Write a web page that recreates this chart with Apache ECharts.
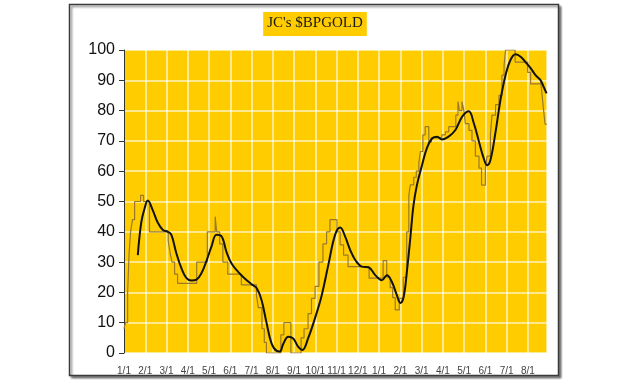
<!DOCTYPE html>
<html>
<head>
<meta charset="utf-8">
<script src="https://cdn.jsdelivr.net/npm/echarts@6/dist/echarts.min.js"></script>
<style>html,body{margin:0;padding:0;background:#fff}#c{width:630px;height:383px}</style>
</head>
<body>
<div id="c"></div>
<script>
// Month tick labels (x = month index from first 1/1)
var monthLabels = ['1/1','2/1','3/1','4/1','5/1','6/1','7/1','8/1','9/1','10/1','11/1','12/1',
                   '1/1','2/1','3/1','4/1','5/1','6/1','7/1','8/1'];
var yTicks = [0,10,20,30,40,50,60,70,80,90,100];

// Raw $BPGOLD (thin stepped line): [month position, value at which it changes]
var bpgoldRaw = [
 [0,8],[0.07,10],[0.17,20],[0.24,33],[0.31,40],[0.4,44],[0.5,50],[0.78,52],[0.92,50],[1.2,40],
 [2.08,37],[2.17,33],[2.26,30],[2.38,26],[2.52,23],[3.42,30],[3.92,40],[4.29,45],[4.36,40],[4.5,36],
 [4.65,30],[4.88,26],[5.52,22.5],[6.23,19],[6.32,15],[6.49,8],[6.6,3.5],[6.7,0],[7.38,6],[7.52,10],
 [7.85,0],[8.33,5],[8.47,8],[8.66,13],[8.82,18],[8.99,22],[9.17,30],[9.36,36],[9.53,40],[9.69,44],
 [10.02,40],[10.17,35.7],[10.33,32.3],[10.54,28.5],[11.53,24.7],[12.19,30.5],[12.36,25],[12.52,21.6],
 [12.64,18.3],[12.76,14.2],[12.95,18],[13.14,25],[13.3,40],[13.4,52],[13.47,55.5],[13.63,58],
 [13.75,60],[13.87,62.7],[13.94,66.5],[14.06,72],[14.17,74.7],[14.34,69.6],[14.46,71],[14.95,72],
 [15.12,73],[15.28,74.7],[15.61,78.5],[15.71,83],[15.78,80],[15.9,83],[15.99,80],[16.06,75.7],
 [16.23,73.5],[16.37,70],[16.53,65],[16.7,61],[16.82,55.4],[17.0,61],[17.08,65],[17.24,72],
 [17.31,78.5],[17.48,82],[17.64,85],[17.78,91.7],[17.88,95],[17.95,100],[18.4,96],[18.99,92.6],
 [19.13,88.8],[19.6,90],[19.67,85],[19.74,80],[19.81,75.5],[19.9,75.5]
];

// Smoothed average (thick black line)
var bpgoldAvg = [
 [0.65,32.3],[0.81,43],[0.97,47.8],[1.12,50.3],[1.36,47],[1.59,43],[1.83,40.6],[2.07,40],[2.23,39],
 [2.46,33],[2.7,28],[2.93,24.8],[3.17,23.9],[3.41,24.2],[3.64,26.3],[3.88,30.4],[4.11,35],[4.35,39],
 [4.58,38.6],[4.82,33.4],[5.06,29.5],[5.37,26.8],[5.68,24.6],[6.0,22.7],[6.24,21.4],[6.47,17.5],
 [6.71,9.8],[6.94,3.2],[7.18,0.7],[7.33,0.5],[7.49,3],[7.73,5.4],[7.96,4.8],[8.2,2],[8.39,1],
 [8.67,5],[8.99,11.6],[9.3,19],[9.61,29],[9.93,39],[10.17,41.4],[10.4,38.5],[10.64,34],[10.88,30.7],
 [11.19,28.5],[11.5,28.3],[11.82,25.7],[12.13,24],[12.37,25.7],[12.6,23.5],[12.84,19],[13.0,16.5],
 [13.15,18.3],[13.31,27],[13.47,38],[13.62,48.8],[13.78,55.4],[14.02,62],[14.25,67.6],[14.49,70.8],
 [14.73,71.4],[14.96,70.5],[15.27,71.4],[15.59,73.6],[15.91,78],[16.22,79.8],[16.45,76],[16.69,70],
 [16.92,64.3],[17.08,62],[17.24,63.7],[17.48,73],[17.71,83.5],[17.95,91.7],[18.18,96.7],[18.42,98.6],
 [18.66,97.8],[18.89,96],[19.13,94],[19.36,91.7],[19.6,90],[19.75,87.7],[19.88,85.7]
];

var chart = echarts.init(document.getElementById('c'), null, {renderer:'canvas'});
chart.setOption({
  animation: false,
  backgroundColor: '#ffffff',
  title: {
    text: "JC's $BPGOLD",
    left: 'center',
    top: 12,
    padding: [4, 4, 5, 4],
    backgroundColor: '#FFCC00',
    textStyle: {fontFamily: 'Liberation Serif', fontSize: 15, fontWeight: 'normal', color: '#1a1a1a'}
  },
  graphic: [{
    type: 'rect', z: -1,
    shape: {x: 69.5, y: 4.5, width: 489, height: 371},
    style: {fill: '#ffffff', stroke: '#3a3a3a', lineWidth: 1.5,
            shadowColor: 'rgba(0,0,0,0.45)', shadowOffsetX: 2, shadowOffsetY: 2, shadowBlur: 2}
  }],
  grid: {left: 124, right: 83, top: 50, bottom: 30, show: true, backgroundColor: '#FFCC00', borderWidth: 0},
  xAxis: {
    type: 'value', min: 0, max: 19.9, interval: 1,
    axisLine: {show: false}, axisTick: {show: false},
    splitLine: {show: true, lineStyle: {color: 'rgba(255,255,255,0.75)', width: 1.5}},
    axisLabel: {
      fontFamily: 'Liberation Sans', fontSize: 10, color: '#444', margin: 13,
      showMaxLabel: false, hideOverlap: false,
      formatter: function (v) { var i = Math.round(v); return Math.abs(v - i) < 1e-6 ? (monthLabels[i] || '') : ''; }
    }
  },
  yAxis: {
    type: 'value', min: yTicks[0], max: yTicks[yTicks.length - 1], interval: 10,
    axisLine: {show: true, lineStyle: {color: '#333', width: 1}},
    axisTick: {show: true, length: 5, lineStyle: {color: '#333'}},
    splitLine: {show: true, lineStyle: {color: 'rgba(255,255,255,0.75)', width: 1.5}},
    axisLabel: {fontFamily: 'Liberation Sans', fontSize: 16, color: '#111', margin: 9}
  },
  series: [
    {type: 'line', data: bpgoldRaw, step: 'end', symbol: 'none', z: 2,
     lineStyle: {color: '#9A7A2A', width: 1.2}},
    {type: 'line', data: bpgoldAvg, smooth: 0.4, symbol: 'none', z: 3,
     lineStyle: {color: '#111111', width: 2}}
  ]
});
</script>
</body>
</html>
